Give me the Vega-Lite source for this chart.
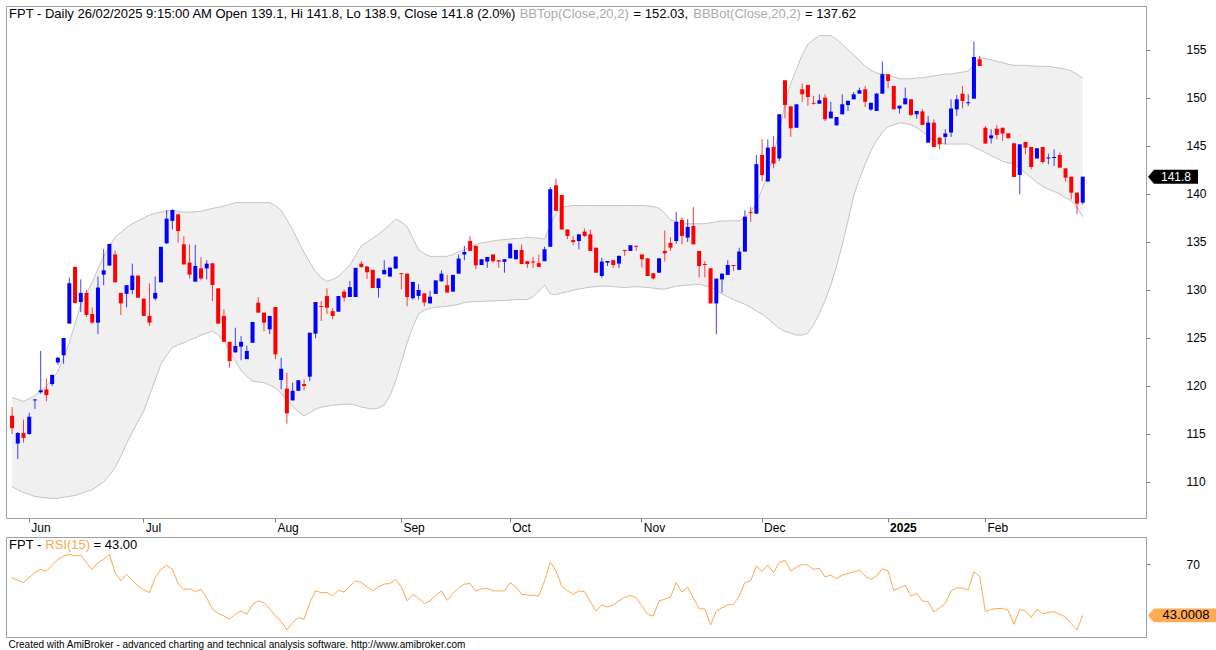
{
"$schema": "https://vega.github.io/schema/vega-lite/v6.json",
"background": "white",
"padding": {"left": 5, "top": 5, "right": 0, "bottom": 0},
"spacing": 2,
"config": {"view": {"stroke": "#a0a0a0", "strokeWidth": 1}, "font": "Liberation Sans"},
"title": {"text": "Created with AmiBroker - advanced charting and technical analysis software. http://www.amibroker.com", "orient": "bottom", "anchor": "start", "fontSize": 10, "fontWeight": "normal", "font": "Liberation Sans", "color": "black", "offset": 2, "dx": 3},
"resolve": {"scale": {"x": "independent", "y": "independent"}},
"datasets": {"p": [
{"d":"2024-05-29","o":116.9,"h":117.8,"l":115.0,"c":115.6,"bu":118.8,"bl":109.5,"r":62.9},
{"d":"2024-05-30","o":114.0,"h":115.2,"l":112.4,"c":115.1,"bu":118.6,"bl":109.2,"r":61.5},
{"d":"2024-05-31","o":115.1,"h":116.5,"l":114.1,"c":114.6,"bu":118.4,"bl":108.9,"r":60.3},
{"d":"2024-06-03","o":115.0,"h":117.2,"l":114.9,"c":116.8,"bu":118.7,"bl":108.7,"r":63.0},
{"d":"2024-06-04","o":118.5,"h":118.6,"l":117.6,"c":118.6,"bu":119.0,"bl":108.5,"r":65.5},
{"d":"2024-06-05","o":119.35,"h":123.65,"l":119.2,"c":119.55,"bu":119.5,"bl":108.4,"r":67.3},
{"d":"2024-06-06","o":119.65,"h":120.8,"l":118.4,"c":119.05,"bu":120.0,"bl":108.35,"r":66.4},
{"d":"2024-06-07","o":120.2,"h":121.2,"l":120.0,"c":121.15,"bu":120.7,"bl":108.3,"r":69.5},
{"d":"2024-06-10","o":122.45,"h":123.0,"l":122.2,"c":122.95,"bu":121.5,"bl":108.3,"r":72.5},
{"d":"2024-06-11","o":123.2,"h":125.0,"l":122.3,"c":125.0,"bu":123.0,"bl":108.4,"r":74.4},
{"d":"2024-06-12","o":126.5,"h":131.3,"l":126.5,"c":130.7,"bu":124.5,"bl":108.5,"r":75.3},
{"d":"2024-06-13","o":132.4,"h":132.45,"l":128.6,"c":128.65,"bu":126.5,"bl":108.6,"r":74.4},
{"d":"2024-06-14","o":128.75,"h":131.1,"l":127.7,"c":129.7,"bu":128.5,"bl":108.8,"r":74.9},
{"d":"2024-06-17","o":129.7,"h":130.0,"l":127.2,"c":127.4,"bu":129.7,"bl":109.0,"r":70.9},
{"d":"2024-06-18","o":127.5,"h":128.2,"l":126.5,"c":126.6,"bu":130.8,"bl":109.2,"r":67.3},
{"d":"2024-06-19","o":126.6,"h":131.4,"l":125.4,"c":130.25,"bu":132.2,"bl":109.6,"r":70.9},
{"d":"2024-06-20","o":131.6,"h":134.25,"l":130.5,"c":132.05,"bu":133.5,"bl":110.0,"r":72.6},
{"d":"2024-06-21","o":132.55,"h":134.8,"l":132.5,"c":134.8,"bu":134.5,"bl":110.7,"r":75.3},
{"d":"2024-06-24","o":133.7,"h":134.1,"l":130.8,"c":130.8,"bu":135.5,"bl":111.5,"r":65.6},
{"d":"2024-06-25","o":129.7,"h":129.7,"l":127.4,"c":128.6,"bu":136.0,"bl":112.7,"r":61.2},
{"d":"2024-06-26","o":129.6,"h":130.5,"l":128.2,"c":130.5,"bu":136.5,"bl":114.0,"r":64.7},
{"d":"2024-06-27","o":130.0,"h":132.75,"l":129.55,"c":131.5,"bu":136.9,"bl":115.2,"r":61.5},
{"d":"2024-06-28","o":131.5,"h":131.5,"l":129.2,"c":129.2,"bu":137.2,"bl":116.3,"r":58.5},
{"d":"2024-07-01","o":129.1,"h":129.1,"l":127.3,"c":127.3,"bu":137.5,"bl":117.4,"r":56.5},
{"d":"2024-07-02","o":127.3,"h":130.7,"l":126.25,"c":126.6,"bu":137.8,"bl":119.0,"r":55.0},
{"d":"2024-07-03","o":129.1,"h":131.4,"l":128.9,"c":129.7,"bu":138.0,"bl":120.6,"r":62.9},
{"d":"2024-07-04","o":130.8,"h":134.5,"l":130.8,"c":134.5,"bu":138.1,"bl":122.3,"r":67.3},
{"d":"2024-07-05","o":134.86,"h":138.33,"l":134.8,"c":137.43,"bu":138.2,"bl":123.2,"r":69.5},
{"d":"2024-07-08","o":137.2,"h":138.4,"l":136.3,"c":138.33,"bu":138.3,"bl":124.0,"r":67.3},
{"d":"2024-07-09","o":137.88,"h":137.9,"l":134.93,"c":136.14,"bu":138.2,"bl":124.3,"r":60.0},
{"d":"2024-07-10","o":134.76,"h":135.6,"l":132.67,"c":132.67,"bu":138.1,"bl":124.5,"r":56.5},
{"d":"2024-07-11","o":132.85,"h":134.76,"l":131.2,"c":131.6,"bu":138.1,"bl":124.8,"r":57.1},
{"d":"2024-07-12","o":130.87,"h":134.7,"l":130.87,"c":132.5,"bu":138.15,"bl":125.0,"r":55.5},
{"d":"2024-07-15","o":132.25,"h":133.4,"l":131.0,"c":131.2,"bu":138.2,"bl":125.3,"r":56.8},
{"d":"2024-07-16","o":132.25,"h":133.1,"l":131.1,"c":132.74,"bu":138.35,"bl":125.5,"r":52.0},
{"d":"2024-07-17","o":132.78,"h":132.8,"l":128.85,"c":130.52,"bu":138.5,"bl":125.7,"r":46.2},
{"d":"2024-07-18","o":130.17,"h":130.2,"l":126.5,"c":126.5,"bu":138.6,"bl":125.3,"r":44.0},
{"d":"2024-07-19","o":127.3,"h":128.0,"l":124.6,"c":124.6,"bu":138.75,"bl":124.7,"r":42.6},
{"d":"2024-07-22","o":124.6,"h":124.6,"l":121.9,"c":122.6,"bu":138.9,"bl":123.7,"r":40.9},
{"d":"2024-07-23","o":123.5,"h":126.07,"l":123.5,"c":124.17,"bu":139.1,"bl":122.6,"r":43.5},
{"d":"2024-07-24","o":124.1,"h":125.2,"l":122.67,"c":124.6,"bu":139.1,"bl":121.6,"r":45.3},
{"d":"2024-07-25","o":122.8,"h":124.2,"l":122.8,"c":123.65,"bu":139.1,"bl":121.0,"r":43.5},
{"d":"2024-07-26","o":124.5,"h":126.67,"l":124.5,"c":126.67,"bu":139.1,"bl":120.5,"r":48.8},
{"d":"2024-07-29","o":128.68,"h":129.27,"l":127.64,"c":127.64,"bu":139.1,"bl":120.4,"r":50.6},
{"d":"2024-07-30","o":127.64,"h":127.64,"l":125.7,"c":126.6,"bu":139.1,"bl":120.35,"r":49.7},
{"d":"2024-07-31","o":125.9,"h":127.3,"l":125.4,"c":127.3,"bu":139.1,"bl":120.1,"r":46.5},
{"d":"2024-08-01","o":128.23,"h":128.23,"l":122.8,"c":123.3,"bu":138.8,"bl":119.8,"r":42.6},
{"d":"2024-08-02","o":120.63,"h":122.95,"l":119.65,"c":121.8,"bu":138.3,"bl":119.2,"r":40.0},
{"d":"2024-08-05","o":119.72,"h":121.4,"l":116.08,"c":117.15,"bu":137.3,"bl":118.5,"r":35.2},
{"d":"2024-08-06","o":118.5,"h":120.35,"l":118.5,"c":119.5,"bu":136.3,"bl":117.9,"r":39.1},
{"d":"2024-08-07","o":119.5,"h":120.6,"l":119.5,"c":120.6,"bu":135.1,"bl":117.3,"r":41.8},
{"d":"2024-08-08","o":120.2,"h":120.7,"l":119.55,"c":120.0,"bu":133.9,"bl":116.9,"r":40.9},
{"d":"2024-08-09","o":120.97,"h":125.55,"l":120.5,"c":125.55,"bu":132.9,"bl":117.2,"r":49.7},
{"d":"2024-08-12","o":125.45,"h":128.75,"l":124.97,"c":128.75,"bu":131.9,"bl":117.6,"r":55.9},
{"d":"2024-08-13","o":128.33,"h":128.85,"l":126.77,"c":128.23,"bu":131.3,"bl":117.8,"r":55.0},
{"d":"2024-08-14","o":129.37,"h":130.17,"l":127.5,"c":128.16,"bu":130.9,"bl":117.9,"r":55.0},
{"d":"2024-08-15","o":127.8,"h":128.1,"l":126.94,"c":127.3,"bu":131.1,"bl":118.0,"r":53.2},
{"d":"2024-08-16","o":127.74,"h":129.37,"l":127.74,"c":129.37,"bu":131.4,"bl":118.05,"r":56.2},
{"d":"2024-08-19","o":129.83,"h":130.07,"l":128.8,"c":129.2,"bu":132.0,"bl":118.1,"r":55.3},
{"d":"2024-08-20","o":129.27,"h":130.94,"l":129.27,"c":130.3,"bu":132.6,"bl":118.1,"r":58.5},
{"d":"2024-08-21","o":129.27,"h":132.3,"l":129.27,"c":132.3,"bu":133.6,"bl":118.0,"r":61.2},
{"d":"2024-08-22","o":132.74,"h":133.0,"l":132.3,"c":132.4,"bu":134.6,"bl":117.8,"r":60.3},
{"d":"2024-08-23","o":132.45,"h":132.5,"l":131.15,"c":131.85,"bu":135.0,"bl":117.7,"r":58.0},
{"d":"2024-08-26","o":132.1,"h":132.1,"l":130.2,"c":130.2,"bu":135.4,"bl":117.6,"r":55.9},
{"d":"2024-08-27","o":130.2,"h":131.2,"l":129.2,"c":131.2,"bu":135.8,"bl":117.7,"r":58.0},
{"d":"2024-08-28","o":131.64,"h":133.1,"l":131.64,"c":132.09,"bu":136.3,"bl":118.0,"r":59.5},
{"d":"2024-08-29","o":131.4,"h":132.33,"l":131.35,"c":132.33,"bu":136.8,"bl":119.0,"r":59.8},
{"d":"2024-08-30","o":132.23,"h":133.48,"l":132.23,"c":133.48,"bu":137.4,"bl":120.5,"r":62.0},
{"d":"2024-09-04","o":131.75,"h":131.75,"l":130.07,"c":131.65,"bu":137.1,"bl":122.5,"r":58.0},
{"d":"2024-09-05","o":131.7,"h":131.7,"l":128.3,"c":129.27,"bu":136.6,"bl":124.5,"r":50.6},
{"d":"2024-09-06","o":129.14,"h":130.84,"l":129.0,"c":130.84,"bu":135.4,"bl":126.2,"r":54.1},
{"d":"2024-09-09","o":129.38,"h":130.6,"l":129.0,"c":130.0,"bu":134.2,"bl":127.5,"r":52.0},
{"d":"2024-09-10","o":129.65,"h":129.65,"l":128.3,"c":128.7,"bu":133.8,"bl":127.9,"r":49.2},
{"d":"2024-09-11","o":128.6,"h":129.9,"l":128.6,"c":129.3,"bu":133.5,"bl":128.1,"r":50.6},
{"d":"2024-09-12","o":129.6,"h":131.0,"l":129.6,"c":131.0,"bu":133.5,"bl":128.2,"r":53.5},
{"d":"2024-09-13","o":130.9,"h":132.05,"l":130.9,"c":131.7,"bu":133.5,"bl":128.25,"r":55.9},
{"d":"2024-09-16","o":130.5,"h":131.57,"l":129.73,"c":129.73,"bu":133.5,"bl":128.3,"r":50.9},
{"d":"2024-09-17","o":129.83,"h":131.57,"l":129.83,"c":131.57,"bu":133.7,"bl":128.4,"r":54.5},
{"d":"2024-09-18","o":131.7,"h":133.7,"l":131.7,"c":133.27,"bu":134.0,"bl":128.5,"r":57.6},
{"d":"2024-09-19","o":133.7,"h":134.6,"l":133.1,"c":133.96,"bu":134.2,"bl":128.7,"r":59.5},
{"d":"2024-09-20","o":135.1,"h":135.63,"l":134.07,"c":134.07,"bu":134.5,"bl":128.75,"r":59.8},
{"d":"2024-09-23","o":134.6,"h":134.6,"l":132.16,"c":132.57,"bu":134.7,"bl":128.8,"r":55.9},
{"d":"2024-09-24","o":132.6,"h":133.2,"l":132.6,"c":133.2,"bu":134.9,"bl":128.8,"r":57.0},
{"d":"2024-09-25","o":132.96,"h":133.44,"l":132.3,"c":133.44,"bu":135.0,"bl":128.85,"r":57.3},
{"d":"2024-09-26","o":133.7,"h":133.7,"l":132.8,"c":133.0,"bu":135.1,"bl":128.85,"r":55.9},
{"d":"2024-09-27","o":133.1,"h":133.1,"l":132.3,"c":132.96,"bu":135.2,"bl":128.9,"r":55.9},
{"d":"2024-09-30","o":132.93,"h":133.2,"l":131.8,"c":133.2,"bu":135.25,"bl":128.9,"r":55.9},
{"d":"2024-10-01","o":133.3,"h":134.83,"l":133.3,"c":134.83,"bu":135.3,"bl":128.95,"r":60.3},
{"d":"2024-10-02","o":133.2,"h":134.17,"l":133.2,"c":134.17,"bu":135.35,"bl":129.0,"r":58.0},
{"d":"2024-10-03","o":134.17,"h":134.76,"l":132.7,"c":132.7,"bu":135.4,"bl":129.0,"r":54.1},
{"d":"2024-10-04","o":133.0,"h":133.0,"l":132.3,"c":132.7,"bu":135.5,"bl":129.0,"r":53.8},
{"d":"2024-10-07","o":132.96,"h":133.44,"l":132.3,"c":132.85,"bu":135.45,"bl":129.3,"r":53.5},
{"d":"2024-10-08","o":132.8,"h":133.7,"l":132.4,"c":132.4,"bu":135.4,"bl":129.9,"r":53.2},
{"d":"2024-10-09","o":133.0,"h":134.5,"l":133.0,"c":134.24,"bu":135.3,"bl":130.5,"r":61.2},
{"d":"2024-10-10","o":134.5,"h":140.73,"l":134.5,"c":140.5,"bu":136.8,"bl":129.6,"r":71.2},
{"d":"2024-10-11","o":140.9,"h":141.6,"l":138.2,"c":138.25,"bu":138.0,"bl":129.5,"r":66.5},
{"d":"2024-10-14","o":139.9,"h":139.9,"l":136.3,"c":136.3,"bu":138.6,"bl":129.7,"r":58.5},
{"d":"2024-10-15","o":136.3,"h":136.3,"l":135.3,"c":135.63,"bu":138.7,"bl":129.8,"r":56.0},
{"d":"2024-10-16","o":135.2,"h":135.63,"l":134.7,"c":135.0,"bu":138.8,"bl":130.0,"r":54.1},
{"d":"2024-10-17","o":135.1,"h":135.8,"l":134.24,"c":135.8,"bu":138.8,"bl":130.1,"r":55.9},
{"d":"2024-10-18","o":136.08,"h":136.4,"l":135.5,"c":135.63,"bu":138.8,"bl":130.2,"r":55.5},
{"d":"2024-10-21","o":135.8,"h":136.3,"l":134.07,"c":134.07,"bu":138.8,"bl":130.3,"r":50.0},
{"d":"2024-10-22","o":134.4,"h":134.4,"l":131.8,"c":131.8,"bu":138.8,"bl":130.35,"r":45.3},
{"d":"2024-10-23","o":131.46,"h":133.37,"l":131.3,"c":132.96,"bu":138.8,"bl":130.4,"r":48.5},
{"d":"2024-10-24","o":132.85,"h":133.02,"l":132.5,"c":133.02,"bu":138.8,"bl":130.4,"r":47.4},
{"d":"2024-10-25","o":133.1,"h":133.1,"l":132.3,"c":132.6,"bu":138.8,"bl":130.35,"r":48.5},
{"d":"2024-10-28","o":132.75,"h":133.6,"l":132.3,"c":133.55,"bu":138.8,"bl":130.3,"r":50.6},
{"d":"2024-10-29","o":134.17,"h":134.17,"l":133.55,"c":134.07,"bu":138.8,"bl":130.25,"r":52.5},
{"d":"2024-10-30","o":134.07,"h":134.66,"l":134.07,"c":134.66,"bu":138.8,"bl":130.3,"r":53.6},
{"d":"2024-10-31","o":134.6,"h":134.6,"l":134.07,"c":134.5,"bu":138.8,"bl":130.35,"r":52.3},
{"d":"2024-11-01","o":133.7,"h":133.7,"l":132.33,"c":133.2,"bu":138.8,"bl":130.3,"r":48.0},
{"d":"2024-11-04","o":133.3,"h":133.3,"l":131.46,"c":131.46,"bu":138.75,"bl":130.25,"r":43.5},
{"d":"2024-11-05","o":131.74,"h":131.74,"l":131.1,"c":131.2,"bu":138.7,"bl":130.2,"r":42.6},
{"d":"2024-11-06","o":131.8,"h":133.3,"l":131.8,"c":133.3,"bu":138.5,"bl":130.1,"r":50.6},
{"d":"2024-11-07","o":134.07,"h":136.2,"l":132.96,"c":133.82,"bu":138.0,"bl":130.1,"r":51.5},
{"d":"2024-11-08","o":134.9,"h":135.5,"l":134.07,"c":134.41,"bu":137.3,"bl":130.25,"r":52.7},
{"d":"2024-11-11","o":135.1,"h":138.13,"l":134.83,"c":137.1,"bu":137.1,"bl":130.4,"r":60.3},
{"d":"2024-11-12","o":137.3,"h":137.54,"l":134.76,"c":135.63,"bu":136.9,"bl":130.45,"r":55.3},
{"d":"2024-11-13","o":135.46,"h":137.37,"l":135.0,"c":136.57,"bu":136.9,"bl":130.5,"r":58.0},
{"d":"2024-11-14","o":136.67,"h":138.65,"l":134.76,"c":134.76,"bu":136.9,"bl":130.55,"r":52.0},
{"d":"2024-11-15","o":134.07,"h":134.07,"l":131.3,"c":132.5,"bu":136.9,"bl":130.6,"r":46.7},
{"d":"2024-11-18","o":132.7,"h":133.0,"l":131.3,"c":132.6,"bu":136.9,"bl":130.45,"r":46.2},
{"d":"2024-11-19","o":132.26,"h":132.26,"l":128.6,"c":128.6,"bu":137.0,"bl":130.3,"r":37.9},
{"d":"2024-11-20","o":128.6,"h":131.18,"l":125.4,"c":131.18,"bu":137.1,"bl":130.0,"r":45.3},
{"d":"2024-11-21","o":131.1,"h":131.7,"l":129.73,"c":131.7,"bu":137.2,"bl":129.6,"r":47.0},
{"d":"2024-11-22","o":131.57,"h":133.1,"l":131.57,"c":132.6,"bu":137.2,"bl":129.3,"r":48.5},
{"d":"2024-11-25","o":132.6,"h":132.6,"l":132.0,"c":132.5,"bu":137.2,"bl":129.0,"r":48.8},
{"d":"2024-11-26","o":132.1,"h":134.4,"l":132.1,"c":134.0,"bu":137.2,"bl":128.75,"r":53.2},
{"d":"2024-11-27","o":134.0,"h":138.3,"l":134.0,"c":137.64,"bu":137.5,"bl":128.5,"r":60.3},
{"d":"2024-11-28","o":138.1,"h":138.65,"l":137.1,"c":138.0,"bu":138.2,"bl":128.2,"r":61.2},
{"d":"2024-11-29","o":137.95,"h":144.06,"l":137.95,"c":143.1,"bu":139.0,"bl":127.8,"r":69.1},
{"d":"2024-12-02","o":144.06,"h":145.7,"l":141.35,"c":141.98,"bu":140.5,"bl":127.5,"r":66.1},
{"d":"2024-12-03","o":141.3,"h":145.7,"l":141.3,"c":144.83,"bu":142.0,"bl":127.0,"r":69.6},
{"d":"2024-12-04","o":144.9,"h":146.04,"l":142.67,"c":143.16,"bu":144.2,"bl":126.5,"r":65.6},
{"d":"2024-12-05","o":143.7,"h":148.3,"l":143.44,"c":148.3,"bu":146.5,"bl":126.0,"r":70.9},
{"d":"2024-12-06","o":151.84,"h":151.84,"l":147.88,"c":149.27,"bu":149.5,"bl":125.7,"r":72.1},
{"d":"2024-12-09","o":149.13,"h":149.13,"l":145.94,"c":146.84,"bu":151.5,"bl":125.5,"r":66.5},
{"d":"2024-12-10","o":146.9,"h":149.34,"l":146.9,"c":149.34,"bu":153.0,"bl":125.3,"r":68.5},
{"d":"2024-12-11","o":150.9,"h":151.5,"l":149.6,"c":150.38,"bu":154.5,"bl":125.3,"r":70.0},
{"d":"2024-12-12","o":151.36,"h":151.36,"l":149.17,"c":150.1,"bu":155.6,"bl":125.5,"r":69.5},
{"d":"2024-12-13","o":149.5,"h":150.2,"l":149.3,"c":149.4,"bu":156.1,"bl":126.4,"r":67.3},
{"d":"2024-12-16","o":149.4,"h":150.38,"l":149.4,"c":149.76,"bu":156.5,"bl":127.5,"r":67.9},
{"d":"2024-12-17","o":150.03,"h":150.38,"l":147.6,"c":147.78,"bu":156.5,"bl":128.9,"r":63.3},
{"d":"2024-12-18","o":147.88,"h":149.6,"l":147.88,"c":148.58,"bu":156.5,"bl":130.5,"r":64.3},
{"d":"2024-12-19","o":147.15,"h":148.02,"l":147.15,"c":148.02,"bu":156.1,"bl":132.5,"r":62.4},
{"d":"2024-12-20","o":148.3,"h":150.38,"l":148.3,"c":149.34,"bu":155.6,"bl":134.7,"r":64.2},
{"d":"2024-12-23","o":149.27,"h":149.7,"l":148.65,"c":149.7,"bu":155.0,"bl":137.2,"r":65.2},
{"d":"2024-12-24","o":149.86,"h":150.62,"l":149.86,"c":150.38,"bu":154.5,"bl":139.8,"r":66.0},
{"d":"2024-12-25","o":150.45,"h":151.08,"l":150.45,"c":150.8,"bu":153.9,"bl":141.6,"r":66.8},
{"d":"2024-12-26","o":150.9,"h":151.25,"l":149.06,"c":149.6,"bu":153.3,"bl":143.1,"r":63.8},
{"d":"2024-12-27","o":148.8,"h":149.5,"l":148.65,"c":149.5,"bu":152.9,"bl":144.5,"r":62.0},
{"d":"2024-12-30","o":148.65,"h":150.55,"l":148.65,"c":150.45,"bu":152.6,"bl":145.6,"r":63.8},
{"d":"2024-12-31","o":150.45,"h":153.8,"l":150.45,"c":152.47,"bu":152.5,"bl":146.4,"r":67.7},
{"d":"2025-01-02","o":152.47,"h":152.47,"l":151.0,"c":151.77,"bu":152.4,"bl":147.0,"r":66.5},
{"d":"2025-01-03","o":151.25,"h":151.25,"l":148.82,"c":148.82,"bu":152.2,"bl":147.2,"r":56.2},
{"d":"2025-01-06","o":148.9,"h":149.2,"l":148.37,"c":149.2,"bu":152.0,"bl":147.4,"r":57.5},
{"d":"2025-01-07","o":149.34,"h":151.08,"l":149.34,"c":149.97,"bu":152.0,"bl":147.35,"r":58.9},
{"d":"2025-01-08","o":149.86,"h":149.86,"l":148.1,"c":148.23,"bu":152.0,"bl":147.2,"r":53.2},
{"d":"2025-01-09","o":148.3,"h":148.65,"l":147.85,"c":148.65,"bu":152.1,"bl":146.9,"r":54.5},
{"d":"2025-01-10","o":148.6,"h":148.82,"l":147.15,"c":147.2,"bu":152.1,"bl":146.5,"r":50.6},
{"d":"2025-01-13","o":145.35,"h":148.13,"l":145.35,"c":147.43,"bu":152.2,"bl":146.0,"r":50.2},
{"d":"2025-01-14","o":147.43,"h":147.78,"l":144.9,"c":144.9,"bu":152.3,"bl":145.5,"r":44.7},
{"d":"2025-01-15","o":145.87,"h":145.87,"l":144.65,"c":145.17,"bu":152.4,"bl":145.3,"r":47.0},
{"d":"2025-01-16","o":145.94,"h":146.74,"l":145.17,"c":146.3,"bu":152.5,"bl":145.2,"r":49.2},
{"d":"2025-01-17","o":146.4,"h":149.86,"l":145.94,"c":148.9,"bu":152.5,"bl":145.2,"r":55.9},
{"d":"2025-01-20","o":148.82,"h":150.31,"l":148.13,"c":149.86,"bu":152.6,"bl":145.2,"r":57.6},
{"d":"2025-01-21","o":150.45,"h":151.25,"l":148.93,"c":149.69,"bu":152.7,"bl":145.2,"r":57.3},
{"d":"2025-01-22","o":149.45,"h":150.38,"l":149.17,"c":149.55,"bu":152.8,"bl":145.2,"r":56.4},
{"d":"2025-01-23","o":149.93,"h":155.87,"l":149.93,"c":154.27,"bu":153.5,"bl":144.9,"r":66.1},
{"d":"2025-01-24","o":154.03,"h":154.38,"l":153.33,"c":153.33,"bu":154.2,"bl":144.6,"r":63.5},
{"d":"2025-02-03","o":146.9,"h":147.08,"l":145.25,"c":145.25,"bu":154.1,"bl":144.3,"r":44.9},
{"d":"2025-02-04","o":145.8,"h":146.74,"l":145.25,"c":146.1,"bu":154.0,"bl":144.0,"r":46.2},
{"d":"2025-02-05","o":146.8,"h":147.19,"l":145.7,"c":146.15,"bu":153.8,"bl":143.7,"r":46.5},
{"d":"2025-02-06","o":146.9,"h":146.9,"l":145.52,"c":146.3,"bu":153.7,"bl":143.4,"r":46.7},
{"d":"2025-02-07","o":146.32,"h":146.32,"l":145.8,"c":145.8,"bu":153.5,"bl":143.25,"r":45.6},
{"d":"2025-02-10","o":145.28,"h":145.28,"l":141.77,"c":141.77,"bu":153.4,"bl":143.1,"r":38.2},
{"d":"2025-02-11","o":141.98,"h":145.17,"l":139.97,"c":145.17,"bu":153.4,"bl":142.6,"r":46.2},
{"d":"2025-02-12","o":145.42,"h":145.42,"l":144.13,"c":144.83,"bu":153.4,"bl":142.2,"r":45.3},
{"d":"2025-02-13","o":144.9,"h":144.9,"l":142.57,"c":142.8,"bu":153.35,"bl":141.7,"r":41.8},
{"d":"2025-02-14","o":143.7,"h":144.76,"l":143.7,"c":144.76,"bu":153.3,"bl":141.2,"r":46.2},
{"d":"2025-02-17","o":144.9,"h":144.9,"l":143.16,"c":143.33,"bu":153.3,"bl":140.8,"r":43.9},
{"d":"2025-02-18","o":143.7,"h":144.2,"l":143.1,"c":143.8,"bu":153.3,"bl":140.5,"r":44.5},
{"d":"2025-02-19","o":143.75,"h":144.65,"l":142.92,"c":143.85,"bu":153.2,"bl":140.25,"r":44.9},
{"d":"2025-02-20","o":144.06,"h":144.3,"l":142.74,"c":142.74,"bu":153.1,"bl":140.0,"r":43.5},
{"d":"2025-02-21","o":142.67,"h":142.67,"l":141.3,"c":141.7,"bu":153.0,"bl":139.6,"r":42.1},
{"d":"2025-02-24","o":141.8,"h":141.8,"l":139.45,"c":140.14,"bu":152.8,"bl":139.3,"r":38.6},
{"d":"2025-02-25","o":140.14,"h":140.14,"l":137.88,"c":139.0,"bu":152.5,"bl":138.6,"r":35.2},
{"d":"2025-02-26","o":139.1,"h":141.8,"l":138.9,"c":141.8,"bu":152.03,"bl":137.62,"r":43.0}
]},
"vconcat": [
{
 "width": 1140, "height": 512,
 "data": {"name": "p"},
 "encoding": {"x": {"field": "d", "type": "ordinal", "scale": {"type": "band", "paddingInner": 0, "paddingOuter": 0, "range": [3.2, 1079.6]},
   "axis": {"values": ["2024-06-03","2024-07-01","2024-08-01","2024-09-04","2024-10-01","2024-11-01","2024-12-02","2025-01-02","2025-02-03"],
     "labelExpr": "datum.value == '2025-01-02' ? '2025' : utcFormat(toDate(datum.value), '%b')",
     "title": null, "grid": false, "domain": false, "tickSize": 4, "tickColor": "#808080", "labelAngle": 0,
     "labelAlign": "left", "labelBaseline": "top", "labelOffset": 2, "labelPadding": 0, "labelFontSize": 12, "labelFont": "Liberation Sans", "labelColor": "black",
     "labelFontWeight": {"condition": {"test": "datum.value == '2025-01-02'", "value": "bold"}, "value": "normal"},
     "labelOverlap": false, "labelBound": false, "labelFlush": false}}},
 "layer": [
  {"mark": {"type": "area", "color": "#f0f0f0"},
   "encoding": {"y": {"field": "bl", "type": "quantitative", "scale": {"domain": [106.25, 159.58], "zero": false, "nice": false},
     "axis": {"orient": "right", "values": [110,115,120,125,130,135,140,145,150,155], "title": null, "grid": false, "domain": true, "domainColor": "#a0a0a0", "tickColor": "#808080", "tickSize": 4, "labelPadding": 36, "labelFontSize": 12, "labelFont": "Liberation Sans", "labelColor": "black"}},
     "y2": {"field": "bu"}}},
  {"mark": {"type": "line", "color": "#c4c4c4", "strokeWidth": 1}, "encoding": {"y": {"field": "bu", "type": "quantitative"}}},
  {"mark": {"type": "line", "color": "#c4c4c4", "strokeWidth": 1}, "encoding": {"y": {"field": "bl", "type": "quantitative"}}},
  {"mark": {"type": "rule", "strokeWidth": 1, "opacity": 0.75},
   "encoding": {"y": {"field": "l", "type": "quantitative"}, "y2": {"field": "h"},
     "color": {"condition": {"test": "datum.c >= datum.o", "value": "#0000ff"}, "value": "#ff0000"}}},
  {"mark": {"type": "bar", "width": {"band": 0.7}},
   "encoding": {"y": {"field": "o", "type": "quantitative"}, "y2": {"field": "c"},
     "color": {"condition": {"test": "datum.c >= datum.o", "value": "#0000ff"}, "value": "#ff0000"}}},
  {"data": {"values": [{}]}, "mark": {"type": "text", "align": "left", "baseline": "middle", "fontSize": 13, "dx": -3, "dy": 8, "color": "black"},
   "encoding": {"x": {"datum": "2024-05-29", "type": "ordinal"}, "y": {"datum": 159.58, "type": "quantitative"}, "text": {"value": "FPT - Daily 26/02/2025 9:15:00 AM Open 139.1, Hi 141.8, Lo 138.9, Close 141.8 (2.0%)"}}},
  {"data": {"values": [{}]}, "mark": {"type": "text", "align": "left", "baseline": "middle", "fontSize": 13, "dx": 507.6, "dy": 8, "color": "#ababab"},
   "encoding": {"x": {"datum": "2024-05-29", "type": "ordinal"}, "y": {"datum": 159.58, "type": "quantitative"}, "text": {"value": "BBTop(Close,20,2)"}}},
  {"data": {"values": [{}]}, "mark": {"type": "text", "align": "left", "baseline": "middle", "fontSize": 13, "dx": 621.5, "dy": 8, "color": "black"},
   "encoding": {"x": {"datum": "2024-05-29", "type": "ordinal"}, "y": {"datum": 159.58, "type": "quantitative"}, "text": {"value": "= 152.03,"}}},
  {"data": {"values": [{}]}, "mark": {"type": "text", "align": "left", "baseline": "middle", "fontSize": 13, "dx": 681.2, "dy": 8, "color": "#ababab"},
   "encoding": {"x": {"datum": "2024-05-29", "type": "ordinal"}, "y": {"datum": 159.58, "type": "quantitative"}, "text": {"value": "BBBot(Close,20,2)"}}},
  {"data": {"values": [{}]}, "mark": {"type": "text", "align": "left", "baseline": "middle", "fontSize": 13, "dx": 793, "dy": 8, "color": "black"},
   "encoding": {"x": {"datum": "2024-05-29", "type": "ordinal"}, "y": {"datum": 159.58, "type": "quantitative"}, "text": {"value": "= 137.62"}}},
  {"data": {"values": [{}]}, "mark": {"type": "point", "shape": "M-1,0L-0.76,-0.28L1,-0.28L1,0.28L-0.76,0.28Z", "size": 2500, "filled": true, "color": "black", "opacity": 1},
   "encoding": {"x": {"value": 1167}, "y": {"datum": 141.8, "type": "quantitative"}}},
  {"data": {"values": [{}]}, "mark": {"type": "text", "align": "center", "baseline": "middle", "fontSize": 12, "color": "white"},
   "encoding": {"x": {"value": 1170}, "y": {"datum": 141.8, "type": "quantitative"}, "text": {"value": "141.8"}}}
 ]
},
{
 "width": 1140, "height": 100,
 "data": {"name": "p"},
 "encoding": {"x": {"field": "d", "type": "ordinal", "scale": {"type": "band", "paddingInner": 0, "paddingOuter": 0, "range": [3.2, 1079.6]}, "axis": null}},
 "layer": [
  {"mark": {"type": "line", "color": "#ffa64d", "strokeWidth": 1},
   "encoding": {"y": {"field": "r", "type": "quantitative", "scale": {"domain": [31.5, 84.45], "zero": false, "nice": false},
     "axis": {"orient": "right", "values": [70], "title": null, "grid": false, "domain": true, "domainColor": "#a0a0a0", "tickColor": "#808080", "tickSize": 4, "labelPadding": 36, "labelFontSize": 12, "labelFont": "Liberation Sans", "labelColor": "black"}}}},
  {"data": {"values": [{}]}, "mark": {"type": "text", "align": "left", "baseline": "middle", "fontSize": 13, "dx": -3, "dy": 8, "color": "black"},
   "encoding": {"x": {"datum": "2024-05-29", "type": "ordinal"}, "y": {"datum": 84.45, "type": "quantitative"}, "text": {"value": "FPT -"}}},
  {"data": {"values": [{}]}, "mark": {"type": "text", "align": "left", "baseline": "middle", "fontSize": 13, "dx": 33.2, "dy": 8, "color": "#ffa64d"},
   "encoding": {"x": {"datum": "2024-05-29", "type": "ordinal"}, "y": {"datum": 84.45, "type": "quantitative"}, "text": {"value": "RSI(15)"}}},
  {"data": {"values": [{}]}, "mark": {"type": "text", "align": "left", "baseline": "middle", "fontSize": 13, "dx": 81.5, "dy": 8, "color": "black"},
   "encoding": {"x": {"datum": "2024-05-29", "type": "ordinal"}, "y": {"datum": 84.45, "type": "quantitative"}, "text": {"value": "= 43.00"}}},
  {"data": {"values": [{}]}, "mark": {"type": "point", "shape": "M-1,0L-0.83,-0.2L1,-0.2L1,0.2L-0.83,0.2Z", "size": 4761, "filled": true, "color": "#ffaa55", "opacity": 1},
   "encoding": {"x": {"value": 1176.5}, "y": {"datum": 43.0008, "type": "quantitative"}}},
  {"data": {"values": [{}]}, "mark": {"type": "text", "align": "center", "baseline": "middle", "fontSize": 13, "color": "black"},
   "encoding": {"x": {"value": 1180}, "y": {"datum": 43.0008, "type": "quantitative"}, "text": {"value": "43.0008"}}}
 ]
}
]
}
